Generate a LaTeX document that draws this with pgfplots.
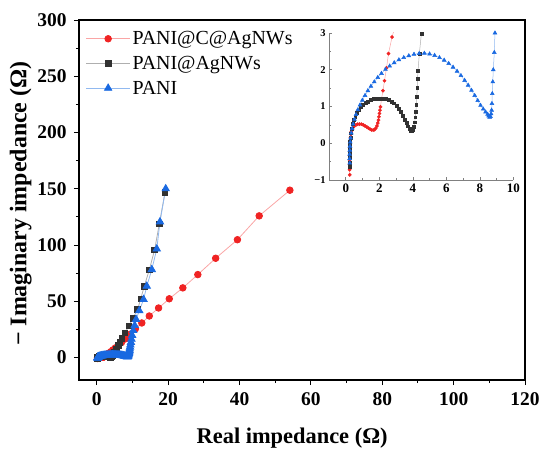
\documentclass[border=0pt]{standalone}
\usepackage{fontspec}
\setmainfont{Liberation Serif}
\usepackage{pgfplots}
\usepackage{pgfplotstable}
\pgfplotsset{compat=1.18}

\definecolor{redpt}{RGB}{240,35,35}
\definecolor{redln}{RGB}{250,165,165}
\definecolor{blkpt}{RGB}{50,50,50}
\definecolor{blkln}{RGB}{175,175,175}
\definecolor{blupt}{RGB}{25,105,225}
\definecolor{bluln}{RGB}{145,185,240}

% PANI@C@AgNWs
\pgfplotstableread{
x y
0.24 -0.86
0.23 -0.72
0.23 -0.58
0.23 -0.45
0.23 -0.33
0.24 -0.22
0.24 -0.12
0.25 -0.03
0.26 0.06
0.28 0.15
0.30 0.24
0.33 0.31
0.38 0.38
0.44 0.43
0.52 0.47
0.61 0.50
0.71 0.52
0.82 0.52
0.93 0.52
1.04 0.50
1.15 0.47
1.26 0.44
1.36 0.41
1.46 0.38
1.55 0.36
1.64 0.36
1.72 0.37
1.79 0.41
1.86 0.47
1.91 0.55
1.95 0.63
1.98 0.72
2.01 0.81
2.04 0.90
2.07 0.99
2.13 1.20
2.22 1.43
2.31 1.70
2.43 2.05
2.55 2.44
2.76 2.89
3.4 3.9
3.9 5.1
4.5 6.7
5.2 8.5
6.0 10.7
6.9 13.3
8.0 16.6
9.3 20.6
10.8 25.5
12.6 30.7
14.7 36.9
17.3 44.0
20.3 52.2
24.1 61.9
28.3 73.7
33.3 88.2
39.4 104.7
45.5 125.9
54.1 148.7
}\redtab

% PANI@AgNWs
\pgfplotstableread{
x y
0.24 -0.65
0.23 -0.52
0.23 -0.40
0.23 -0.28
0.24 -0.17
0.24 -0.07
0.26 0.04
0.28 0.15
0.31 0.27
0.35 0.40
0.41 0.52
0.48 0.63
0.57 0.73
0.67 0.82
0.78 0.90
0.90 0.98
1.03 1.04
1.17 1.10
1.32 1.14
1.48 1.18
1.65 1.20
1.83 1.22
2.01 1.22
2.19 1.22
2.37 1.21
2.55 1.18
2.72 1.14
2.88 1.09
3.03 1.02
3.17 0.94
3.30 0.85
3.42 0.75
3.53 0.65
3.63 0.55
3.72 0.46
3.80 0.39
3.87 0.35
3.94 0.34
4.00 0.37
4.06 0.45
4.11 0.57
4.15 0.71
4.18 0.86
4.21 1.04
4.24 1.26
4.26 1.50
4.28 1.75
4.31 1.97
4.39 2.44
4.51 2.98
4.9 5.0
5.4 7.5
6.0 10.5
6.5 13.5
7.0 17.0
7.9 22.0
9.0 28.0
10.1 35.0
11.4 42.5
12.3 52.2
13.3 63.4
14.7 77.9
16.2 95.8
17.5 118.6
19.1 146.6
}\blktab

% PANI
\pgfplotstableread{
x y
0.24 -0.54
0.23 -0.42
0.23 -0.30
0.24 -0.19
0.25 -0.08
0.27 0.03
0.29 0.14
0.33 0.28
0.38 0.40
0.44 0.52
0.52 0.65
0.61 0.78
0.72 0.91
0.85 1.04
0.99 1.17
1.15 1.30
1.32 1.43
1.50 1.55
1.70 1.67
1.91 1.79
2.13 1.90
2.37 2.01
2.62 2.10
2.89 2.19
3.17 2.27
3.46 2.33
3.76 2.38
4.07 2.42
4.38 2.44
4.69 2.45
5.00 2.43
5.30 2.39
5.59 2.33
5.87 2.26
6.14 2.17
6.40 2.07
6.64 1.96
6.87 1.84
7.09 1.71
7.30 1.58
7.50 1.44
7.69 1.30
7.87 1.16
8.04 1.03
8.20 0.93
8.34 0.85
8.46 0.79
8.52 0.74
8.58 0.71
8.63 0.73
8.67 0.80
8.70 0.90
8.72 1.08
8.74 1.35
8.77 1.67
8.80 2.00
8.86 2.47
8.90 3.00
9.0 3.6
9.05 4.4
9.1 5.3
9.15 6.4
9.2 7.7
9.3 9.3
9.4 11.2
9.55 13.5
9.7 16.3
9.9 19.7
10.2 24.0
10.6 28.6
11.0 33.9
11.9 41.6
13.1 51.6
14.0 63.4
15.4 78.2
16.8 96.5
17.7 120.6
19.3 150.0
}\blutab

\begin{document}
\begin{tikzpicture}
\path[use as bounding box] (-79bp,-70bp) rectangle (462bp,380bp);
\begin{axis}[
  at={(0,0)}, anchor=south west,
  scale only axis, width=446bp, height=360bp,
  xmin=-5, xmax=120, ymin=-20, ymax=300,
  xtick={0,20,...,120}, ytick={0,50,...,300},
  xticklabels={0,20,40,60,80,100,120},
  yticklabels={0,50,100,150,200,250,300},
  minor x tick num=1, minor y tick num=1,
  tick align=outside, tick pos=left,
  major tick length=5bp, minor tick length=3bp,
  every tick/.style={black, line width=1pt},
  axis line style={line width=1.2pt},
  ticklabel style={font=\fontsize{19.5}{21}\selectfont\bfseries},
  xticklabel style={yshift=-4bp},
  yticklabel style={xshift=-4bp},
  xlabel={Real impedance (Ω)},
  ylabel={− Imaginary impedance (Ω)},
  xlabel style={font=\fontsize{22.5}{25}\selectfont\bfseries, at={(axis description cs:0.478,-0.175)}, anchor=base},
  ylabel style={font=\fontsize{24}{27}\selectfont\bfseries, at={(axis description cs:-0.118,0.49)}, anchor=base},
  legend cell align=left,
  legend style={at={(axis description cs:0.008,0.98)}, anchor=north west,
    draw=none, fill=none, font=\fontsize{20}{23}\selectfont,
    row sep=6bp},
  legend image code/.code={\draw[mark repeat=2,mark phase=2] plot coordinates {(0bp,0bp) (22bp,0bp) (44bp,0bp)};},
]
\addplot[redln, line width=0.8pt, mark=*, mark size=3.3bp, mark options={solid, draw=redpt, fill=redpt}] table {\redtab};
\addlegendentry{PANI@C@AgNWs}
\addplot[blkln, line width=0.8pt, mark=square*, mark size=2.8bp, mark options={solid, draw=blkpt, fill=blkpt}] table {\blktab};
\addlegendentry{PANI@AgNWs}
\addplot[bluln, line width=0.8pt, mark=triangle*, mark size=4.2bp, mark options={solid, draw=blupt, fill=blupt}] table {\blutab};
\addlegendentry{PANI}
\end{axis}

\begin{axis}[
  at={(250bp,200bp)}, anchor=south west,
  scale only axis, width=184.4bp, height=147bp,
  xmin=-1, xmax=10, ymin=-1, ymax=3,
  axis lines=left, axis line style={-, draw=gray, line width=0.8pt},
  xtick={0,2,...,10}, ytick={-1,0,1,2,3},
  xticklabels={0,2,4,6,8,10},
  yticklabels={−1,0,1,2,3},
  minor x tick num=1, minor y tick num=1,
  tick align=inside,
  major tick length=3bp, minor tick length=2bp,
  every tick/.style={gray, line width=0.6pt},
  xticklabel style={font=\fontsize{13}{15}\selectfont\bfseries},
  yticklabel style={font=\fontsize{10.5}{12}\selectfont\bfseries},
]
\addplot[redln, line width=0.5pt, mark=*, mark size=1.6bp, mark options={solid, draw=redpt, fill=redpt}] table {\redtab};
\addplot[blkln, line width=0.5pt, mark=square*, mark size=1.4bp, mark options={solid, draw=blkpt, fill=blkpt}] table {\blktab};
\addplot[bluln, line width=0.5pt, mark=triangle*, mark size=2.2bp, mark options={solid, draw=blupt, fill=blupt}] table {\blutab};
\end{axis}
\end{tikzpicture}
\end{document}
